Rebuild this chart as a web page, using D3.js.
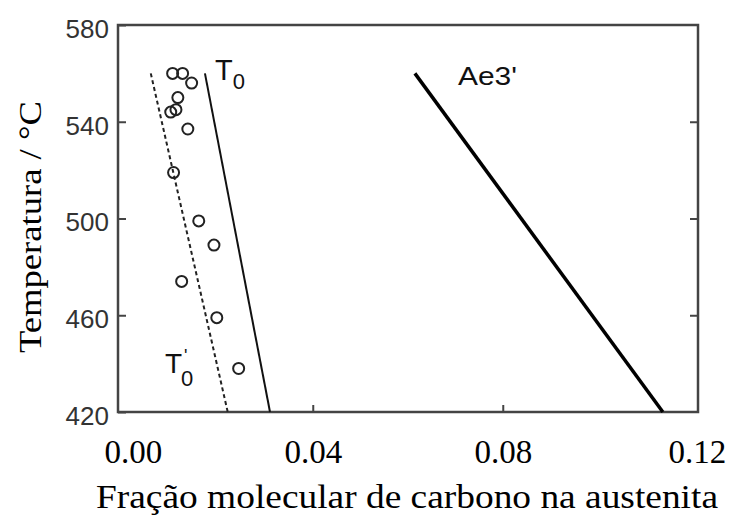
<!DOCTYPE html>
<html>
<head>
<meta charset="utf-8">
<script src="https://cdn.jsdelivr.net/npm/d3@7"></script>
<style>
  html, body { margin: 0; padding: 0; background: #fff; }
  svg { display: block; }
</style>
</head>
<body>
<div id="chart"></div>
<script>
// Carbon fraction in austenite vs temperature
const xTicks = [0.00, 0.04, 0.08, 0.12];
const yTicks = [420, 460, 500, 540, 580];

// measured points (open circles)
const pointX = [0.0105, 0.0126, 0.0145, 0.0116, 0.0101, 0.0112, 0.0137, 0.0107, 0.0160, 0.0192, 0.0124, 0.0198, 0.0244];
const pointT = [560, 560, 556, 550, 544, 545, 537, 519, 499, 489, 474, 459, 438];

// lines (start / end)
const t0X = [0.0173, 0.0310];
const t0T = [560, 420];
const t0pX = [0.0059, 0.0221];
const t0pT = [560, 420];
const ae3X = [0.0615, 0.1137];
const ae3T = [560, 420];

const width = 732, height = 523;
const margin = { left: 118, top: 25, right: 34, bottom: 111 };

const svg = d3.select('#chart').append('svg')
    .attr('width', width)
    .attr('height', height);

const x = d3.scaleLinear()
    .domain([-0.001, 0.1211])
    .range([margin.left, width - margin.right]);

const y = d3.scaleLinear()
    .domain([420, 580])
    .range([height - margin.bottom, margin.top]);

const axisColor = '#444';

// Frame
svg.append('rect')
    .attr('x', x.range()[0])
    .attr('y', y.range()[1])
    .attr('width', x.range()[1] - x.range()[0])
    .attr('height', y.range()[0] - y.range()[1])
    .attr('fill', 'none')
    .attr('stroke', axisColor)
    .attr('stroke-width', 2.5);

// Left axis (inward ticks, sans labels)
const yAxis = svg.append('g')
    .attr('transform', `translate(${margin.left},0)`)
    .call(d3.axisLeft(y).tickValues(yTicks).tickSize(-8).tickPadding(9).tickFormat(d3.format('d')));
yAxis.select('.domain').remove();
yAxis.selectAll('line').attr('stroke', axisColor).attr('stroke-width', 2);
yAxis.selectAll('text')
    .attr('font-family', 'Liberation Sans, Arial, sans-serif')
    .attr('font-size', 26)
    .attr('fill', '#333')
    .attr('dy', '0.48em');

// Right axis ticks
const yAxisR = svg.append('g')
    .attr('transform', `translate(${width - margin.right},0)`)
    .call(d3.axisRight(y).tickValues(yTicks.slice(1, -1)).tickSize(-8).tickFormat(''));
yAxisR.select('.domain').remove();
yAxisR.selectAll('line').attr('stroke', axisColor).attr('stroke-width', 2);

// Bottom axis (inward ticks, serif labels)
const xAxis = svg.append('g')
    .attr('transform', `translate(0,${height - margin.bottom})`)
    .call(d3.axisBottom(x).tickValues(xTicks).tickSize(-7).tickPadding(28).tickFormat(d3.format('.2f')));
xAxis.select('.domain').remove();
xAxis.selectAll('line').attr('stroke', axisColor).attr('stroke-width', 2)
    .filter(d => d === 0 || d === 0.12).remove();
xAxis.selectAll('text')
    .attr('font-family', 'Liberation Serif, Times New Roman, serif')
    .attr('font-size', 33)
    .attr('fill', '#000')
    .attr('dy', '0.71em')
    .attr('dx', d => d === 0 ? 10 : (d === 0.12 ? 4 : 0));

// Axis titles
svg.append('text')
    .attr('x', 407)
    .attr('y', 508)
    .attr('text-anchor', 'middle')
    .attr('font-family', 'Liberation Serif, Times New Roman, serif')
    .attr('font-size', 33)
    .attr('textLength', 622)
    .attr('lengthAdjust', 'spacingAndGlyphs')
    .text('Fração molecular de carbono na austenita');

svg.append('text')
    .attr('transform', 'translate(41,227) rotate(-90)')
    .attr('text-anchor', 'middle')
    .attr('font-family', 'Liberation Serif, Times New Roman, serif')
    .attr('font-size', 32)
    .attr('textLength', 252)
    .attr('lengthAdjust', 'spacingAndGlyphs')
    .text('Temperatura / °C');

// Lines
const line = d3.line().x(d => x(d[0])).y(d => y(d[1]));

svg.append('path')
    .datum(d3.zip(t0pX, t0pT))
    .attr('d', line)
    .attr('fill', 'none')
    .attr('stroke', '#222')
    .attr('stroke-width', 2)
    .attr('stroke-dasharray', '4,3');

svg.append('path')
    .datum(d3.zip(t0X, t0T))
    .attr('d', line)
    .attr('fill', 'none')
    .attr('stroke', '#111')
    .attr('stroke-width', 2);

svg.append('path')
    .datum(d3.zip(ae3X, ae3T))
    .attr('d', line)
    .attr('fill', 'none')
    .attr('stroke', '#000')
    .attr('stroke-width', 3.5);

// Points
svg.append('g')
    .selectAll('circle')
    .data(d3.zip(pointX, pointT))
    .join('circle')
    .attr('cx', d => x(d[0]))
    .attr('cy', d => y(d[1]))
    .attr('r', 5.5)
    .attr('fill', 'none')
    .attr('stroke', '#222')
    .attr('stroke-width', 2);

// Line labels
const sans = 'Liberation Sans, Arial, sans-serif';

const lblT0 = svg.append('text')
    .attr('x', 215)
    .attr('y', 80)
    .attr('font-family', sans)
    .attr('font-size', 29)
    .attr('fill', '#111');
lblT0.append('tspan').text('T');
lblT0.append('tspan').attr('font-size', 22).attr('dy', 9).text('0');

const lblT0p = svg.append('text')
    .attr('x', 165)
    .attr('y', 373)
    .attr('font-family', sans)
    .attr('font-size', 28)
    .attr('fill', '#111');
lblT0p.append('tspan').text('T');
lblT0p.append('tspan').attr('font-size', 22).attr('dx', -1).attr('dy', 13).text('0');
// prime sits above the subscript
svg.append('text')
    .attr('x', 184)
    .attr('y', 362)
    .attr('font-family', sans)
    .attr('font-size', 18)
    .attr('fill', '#111')
    .text("'");

svg.append('text')
    .attr('x', 458)
    .attr('y', 85)
    .attr('font-family', sans)
    .attr('font-size', 25)
    .attr('textLength', 59)
    .attr('lengthAdjust', 'spacingAndGlyphs')
    .attr('fill', '#111')
    .text("Ae3'");
</script>
</body>
</html>
